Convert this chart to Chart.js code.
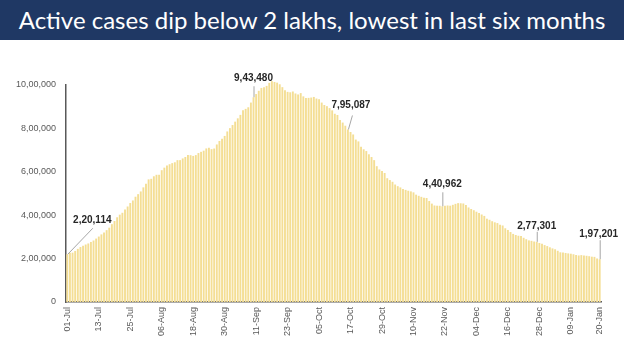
<!DOCTYPE html>
<html>
<head>
<meta charset="utf-8">
<script src="https://cdn.jsdelivr.net/npm/chart.js@4.4.0/dist/chart.umd.min.js"></script>
<style>
    body { margin: 0; width: 624px; height: 351px; background: #ffffff; overflow: hidden; }
    #titulo {
        position: absolute; left: 0; top: 0; width: 624px; height: 40px;
        background: #1F3864; color: #ffffff;
        font-family: Lato, "Open Sans", sans-serif; font-size: 24px;
        line-height: 40px; text-align: center; white-space: nowrap;
    }
    #caixa { position: absolute; left: 0; top: 40px; width: 624px; height: 311px; }
</style>
</head>
<body>
<div id="titulo">Active cases dip below 2 lakhs, lowest in last six months</div>
<div id="caixa"><canvas id="myChart"></canvas></div>
<script>
// rotulos do eixo x que aparecem (um a cada 12 dias + o ultimo)
var tickLabels = ['01-Jul', '13-Jul', '25-Jul', '06-Aug', '18-Aug', '30-Aug', '11-Sep', '23-Sep', '05-Oct',
    '17-Oct', '29-Oct', '10-Nov', '22-Nov', '04-Dec', '16-Dec', '28-Dec', '09-Jan', '20-Jan'];

var meses = ['Jul', 'Aug', 'Sep', 'Oct', 'Nov', 'Dec', 'Jan'];
var diasMes = [31, 31, 30, 31, 30, 31, 20];

// casos ativos por dia, 01-Jul a 20-Jan
var casosJul = [220114, 226947, 227439, 235433, 244814, 253287, 259557, 264944, 269789, 276682,
    283407, 292258, 301609, 311565, 319840, 331146, 342473, 358692, 373379, 390459,
    402529, 411133, 426167, 440135, 456071, 467882, 485114, 496988, 509447, 528242, 545318];
var casosAug = [565103, 567730, 579357, 586244, 586298, 607384, 619088, 628747, 634945, 639929,
    643948, 653622, 653751, 661595, 668220, 677444, 676514, 673166, 676900, 686395,
    692028, 697330, 707668, 710771, 704348, 707267, 725991, 742023, 752424, 765302, 785996];
var casosSep = [801282, 815538, 831124, 846395, 862320, 883697, 890000, 897394, 919018, 943480,
    958316, 973175, 986598, 990061, 995933, 1009976, 1017754, 1013964, 1010824, 1003299,
    990061, 975861, 968377, 966382, 970116, 960969, 956402, 962640, 947576, 940441];
var casosOct = [940705, 942217, 944996, 937625, 934427, 919023, 907883, 902425, 893592, 883185,
    867496, 861853, 838729, 826876, 812390, 795087, 783311, 772055, 748538, 740090,
    715812, 703687, 695509, 680680, 668154, 653717, 625857, 610803, 603687, 594386, 570458];
var casosNov = [561908, 554001, 541405, 533787, 527962, 520773, 516632, 512665, 509673, 505265,
    494657, 489294, 484547, 480719, 479216, 465478, 453401, 444746, 443794, 443486,
    440962, 443303, 444746, 443794, 447803, 452344, 455555, 454940, 453956, 446952];
var casosDec = [435603, 428644, 422943, 416082, 409689, 403248, 396729, 383866, 378909, 372293,
    367148, 363749, 356546, 352586, 339820, 332002, 322366, 313831, 308751, 305344,
    303639, 296000, 289240, 283849, 281919, 278690, 277301, 272000, 268581, 262272, 257656];
var casosJan = [252000, 247000, 243000, 236000, 229000, 227546, 226000, 224000, 222526, 220000,
    216558, 214507, 216000, 214507, 213027, 211033, 208826, 208012, 200528, 197201];

// dias destacados com o valor escrito
var destaques = [0, 71, 107, 143, 179, 203];

var casos = casosJul.concat(casosAug, casosSep, casosOct, casosNov, casosDec, casosJan);

var dias = [];
for (var m = 0; m < meses.length; m++) {
    for (var d = 1; d <= diasMes[m]; d++) {
        dias.push((d < 10 ? '0' + d : d) + '-' + meses[m]);
    }
}

function formatoIndia(n) {
    var s = String(Math.round(n));
    if (s.length <= 3) return s;
    var fim = s.slice(-3);
    var resto = s.slice(0, -3);
    var partes = [];
    while (resto.length > 2) {
        partes.unshift(resto.slice(-2));
        resto = resto.slice(0, -2);
    }
    if (resto.length) partes.unshift(resto);
    return partes.join(',') + ',' + fim;
}

// deslocamentos (px) da linha guia e do texto em relacao ao topo da barra
var guias = [
    { lx: 25, ly: -26, tx: 25, ty: -34 },
    { lx: 0, ly: -11, tx: 0, ty: -19 },
    { lx: 4, ly: -14, tx: 3, ty: -24 },
    { lx: 0, ly: -14, tx: 0, ty: -22 },
    { lx: 0, ly: -10, tx: 0, ty: -16 },
    { lx: 0, ly: -19, tx: -1, ty: -25 }
];

const pluginDestaques = {
    id: 'destaques',
    afterDatasetsDraw(chart) {
        var ctx = chart.ctx;
        var x = chart.scales.x;
        var y = chart.scales.y;
        ctx.save();
        for (var i = 0; i < destaques.length; i++) {
            var idx = destaques[i];
            var px = x.getPixelForValue(idx);
            var py = y.getPixelForValue(casos[idx]);
            var g = guias[i];
            ctx.strokeStyle = '#A6A6A6';
            ctx.lineWidth = 1;
            ctx.beginPath();
            ctx.moveTo(px + 0.5, py);
            ctx.lineTo(px + 0.5 + g.lx, py + g.ly);
            ctx.stroke();
            ctx.fillStyle = '#262626';
            ctx.font = 'bold 10px "Liberation Sans", Arial, sans-serif';
            ctx.textAlign = 'center';
            ctx.textBaseline = 'middle';
            ctx.fillText(formatoIndia(casos[idx]), px + g.tx, py + g.ty);
        }
        ctx.restore();
    }
};

const config = {
    type: 'bar',
    data: {
        labels: dias,
        datasets: [{
            data: casos,
            backgroundColor: '#F4DE94',
            borderWidth: 0,
            barPercentage: 0.72,
            categoryPercentage: 1.0,
            clip: false
        }]
    },
    options: {
        responsive: true,
        maintainAspectRatio: false,
        animation: false,
        layout: { padding: { top: 45, right: 23, left: 0, bottom: 0 } },
        plugins: {
            legend: { display: false },
            tooltip: { enabled: false }
        },
        scales: {
            x: {
                grid: { display: false, drawTicks: false },
                border: { display: true, color: '#595959', width: 1.5 },
                afterFit: function (scale) { scale.height = 49; },
                ticks: {
                    autoSkip: false,
                    minRotation: 90,
                    maxRotation: 90,
                    padding: 5,
                    color: '#595959',
                    font: { family: '"Liberation Sans", Arial, sans-serif', size: 9 },
                    callback: function (value) {
                        var lab = dias[value];
                        return tickLabels.indexOf(lab) >= 0 ? lab : '';
                    }
                }
            },
            y: {
                min: 0,
                max: 1000000,
                grid: { display: false, drawTicks: false },
                border: { display: true, color: '#595959', width: 1.5 },
                afterFit: function (scale) { scale.width = 66; },
                ticks: {
                    stepSize: 200000,
                    padding: 10,
                    color: '#595959',
                    font: { family: '"Liberation Sans", Arial, sans-serif', size: 9 },
                    callback: function (value) { return formatoIndia(value); }
                }
            }
        }
    },
    plugins: [pluginDestaques]
};

const myChart = new Chart(document.getElementById('myChart'), config);
</script>
</body>
</html>
